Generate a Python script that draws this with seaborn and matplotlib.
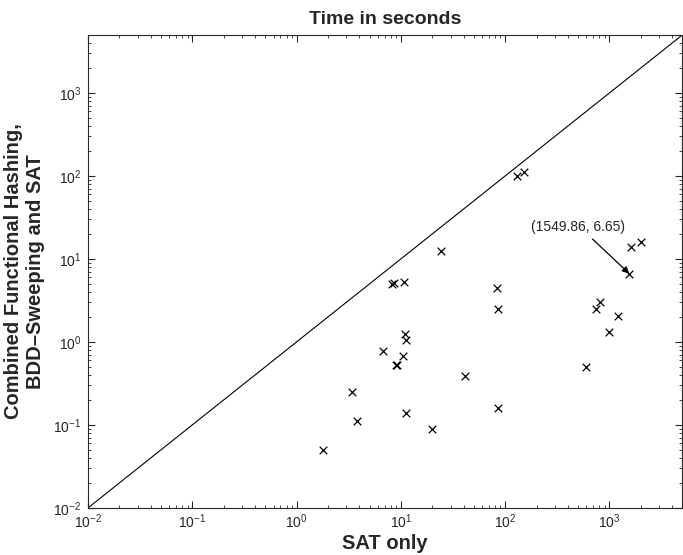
import numpy as np
import pandas as pd
import seaborn as sns
import matplotlib.pyplot as plt
from matplotlib.ticker import LogLocator, LogFormatterSciNotation

# SAT only time vs combined approach time (seconds)
sat_only = [130, 150, 24, 8.6, 8.3, 10.8, 84, 86, 1600, 2000, 1549.86, 740, 810,
            1200, 1000, 11, 11.2, 6.7, 10.5, 9.2, 9.0, 41, 600, 3.4, 3.8, 11.2,
            20, 86, 1.8]
combined = [100, 113, 12.6, 5.1, 5.0, 5.3, 4.4, 2.5, 14.1, 16.2, 6.65, 2.5, 3.0,
            2.05, 1.3, 1.25, 1.05, 0.78, 0.68, 0.52, 0.53, 0.39, 0.5, 0.25, 0.11,
            0.14, 0.09, 0.16, 0.05]

diag = [1e-2, 5e3]
ann_x, ann_y = 1549.86, 6.65

df = pd.DataFrame({'sat': sat_only, 'comb': combined})

sns.set_style('ticks')
plt.rcParams['font.family'] = ['Liberation Sans', 'DejaVu Sans']
plt.rcParams['mathtext.fontset'] = 'custom'
plt.rcParams['mathtext.rm'] = 'Liberation Sans'
plt.rcParams['mathtext.it'] = 'Liberation Sans'

fig = plt.figure(figsize=(6.83, 5.55), dpi=100)
ax = fig.add_axes([0.129, 0.085, 0.870, 0.852])

# y = x reference line
ax.plot(diag, diag, color='black', linewidth=0.8)

sns.scatterplot(data=df, x='sat', y='comb', marker='x', color='black',
                s=30, linewidth=0.9, ax=ax, legend=False)

ax.set_xscale('log')
ax.set_yscale('log')
ax.set_xlim(diag)
ax.set_ylim(diag)

for axis in [ax.xaxis, ax.yaxis]:
    axis.set_major_locator(LogLocator(base=10, numticks=10))
    axis.set_minor_locator(LogLocator(base=10, subs=np.arange(2, 10), numticks=10))
    axis.set_major_formatter(LogFormatterSciNotation())

ax.tick_params(which='both', direction='in', top=True, right=True, labelsize=10)
ax.tick_params(which='major', length=5, width=0.8)
ax.tick_params(which='minor', length=2.5, width=0.6)
ax.tick_params(axis='y', which='major', pad=5)
for sp in ax.spines.values():
    sp.set_linewidth(0.8)

ax.annotate(f'({ann_x}, {ann_y})', xy=(ann_x, ann_y), xytext=(495, 24.3),
            ha='center', va='center', fontsize=10,
            arrowprops=dict(arrowstyle='-|>', color='black', lw=0.9,
                            mutation_scale=10, shrinkA=2, shrinkB=0,
                            relpos=(0.6, 0.0)))

ax.set_title('Time in seconds', fontsize=14, fontweight='bold', pad=8)
ax.set_xlabel('SAT only', fontsize=14.5, fontweight='bold', labelpad=2)
ax.set_ylabel('Combined Functional Hashing,\nBDD\u2013Sweeping and SAT',
              fontsize=14.5, fontweight='bold')
ax.yaxis.set_label_coords(-0.072, 0.5)

fig.savefig('out.png', dpi=100)
